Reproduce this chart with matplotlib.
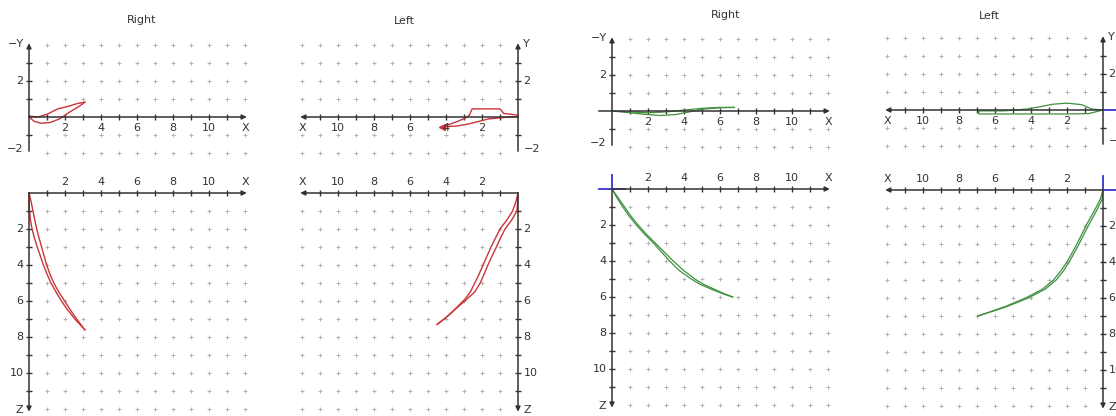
import numpy as np
import matplotlib.pyplot as plt

W, H = 1116, 416

# ---- red set (left half) ----
# Right side, top view (X / -Y)
ar_xy_1x = [0, 0.5, 1.0, 1.6, 2.2, 2.7, 3.1]
ar_xy_1y = [0.05, 0.0, 0.15, 0.45, 0.6, 0.75, 0.82]
ar_xy_2x = [0, 0.3, 0.7, 1.2, 1.7, 2.3, 2.8, 3.1]
ar_xy_2y = [0.0, -0.25, -0.35, -0.3, -0.1, 0.3, 0.6, 0.82]
# Right side, front view (X / Z)
ar_xz_z = [0, 0.5, 1, 1.5, 2, 2.5, 3, 3.5, 4, 4.5, 5, 5.5, 6, 6.5, 7, 7.6]
ar_xz_1x = [0, 0.0, 0.03, 0.08, 0.17, 0.3, 0.46, 0.63, 0.8, 1.0, 1.22, 1.5, 1.8, 2.15, 2.55, 3.1]
ar_xz_2x = [0, 0.12, 0.22, 0.32, 0.43, 0.56, 0.7, 0.84, 0.98, 1.16, 1.38, 1.65, 1.98, 2.3, 2.65, 3.1]
# Left side, top view
al_xy_1x = [0, 0.8, 1.0, 2.55, 2.7, 2.9, 3.5, 4.2]
al_xy_1y = [0.1, 0.2, 0.45, 0.45, 0.1, -0.05, -0.3, -0.55]
al_xy_2x = [0, 0.5, 1.0, 1.6, 2.2, 2.8, 3.4, 4.2]
al_xy_2y = [0.0, 0.0, -0.05, -0.1, -0.25, -0.4, -0.5, -0.55]
# Left side, front view
al_xz_z = [0, 0.5, 1, 1.5, 2, 2.5, 3, 3.5, 4, 4.5, 5, 5.5, 5.9, 6.3, 6.7, 7.0, 7.3]
al_xz_1x = [0, 0.12, 0.3, 0.62, 1.0, 1.25, 1.5, 1.72, 1.94, 2.16, 2.4, 2.65, 2.95, 3.35, 3.75, 4.1, 4.5]
al_xz_2x = [0, 0.02, 0.06, 0.35, 0.72, 0.97, 1.2, 1.44, 1.67, 1.88, 2.1, 2.4, 2.85, 3.3, 3.75, 4.1, 4.5]

# ---- green set (right half) ----
br_xy_1x = [0, 1.0, 2.0, 3.0, 4.0, 5.0, 6.0, 6.8]
br_xy_1y = [0, -0.05, -0.1, -0.05, 0.05, 0.15, 0.2, 0.2]
br_xy_2x = [0, 1.0, 2.0, 2.7, 3.5, 4.3, 5.0, 6.0, 6.8]
br_xy_2y = [0, -0.1, -0.2, -0.25, -0.2, -0.05, 0.1, 0.18, 0.2]
br_xz_z = [0, 0.5, 1.0, 1.5, 2.0, 2.5, 3.0, 3.5, 4.0, 4.5, 5.0, 5.3, 5.6, 5.8, 6.0]
br_xz_1x = [0, 0.28, 0.6, 0.95, 1.35, 1.8, 2.3, 2.75, 3.2, 3.7, 4.4, 4.9, 5.6, 6.1, 6.7]
br_xz_2x = [0, 0.35, 0.7, 1.05, 1.45, 1.9, 2.4, 2.9, 3.4, 3.95, 4.6, 5.1, 5.75, 6.2, 6.7]
bl_xy_1x = [0, 0.6, 1.2, 2.0, 2.8, 3.5, 4.2, 4.8, 5.5, 6.9]
bl_xy_1y = [0, 0.05, 0.3, 0.38, 0.32, 0.18, 0.06, 0.0, -0.05, -0.05]
bl_xy_2x = [0, 0.8, 2.0, 4.0, 6.0, 6.9, 6.9]
bl_xy_2y = [0, -0.2, -0.22, -0.22, -0.22, -0.22, -0.05]
bl_xz_z = [0, 0.5, 1, 1.5, 2, 2.5, 3, 3.5, 4, 4.5, 5, 5.5, 6, 6.5, 7]
bl_xz_1x = [0, 0.15, 0.4, 0.68, 0.95, 1.2, 1.45, 1.72, 2.0, 2.35, 2.75, 3.35, 4.3, 5.5, 6.95]
bl_xz_2x = [0, 0.05, 0.28, 0.55, 0.82, 1.08, 1.33, 1.6, 1.88, 2.2, 2.6, 3.2, 4.15, 5.4, 6.95]

x_labels = [2, 4, 6, 8, 10]
y_labels = [2]
z_labels = [2, 4, 6, 8, 10]

RED = '#c8353a'
GREEN = '#3f8f3f'
AX = '#333333'
BLUE = '#3535c8'

fig = plt.figure(figsize=(W / 100, H / 100), dpi=100)
fig.patch.set_facecolor('white')


def panel(ox, oy, flip, down, s=18.0):
    xlo, xhi = -1.2, 12.4
    ylo, yhi = (-1.0, 12.4) if down else (-2.3, 4.4)
    if flip:
        left, right = ox - xhi * s, ox - xlo * s
    else:
        left, right = ox + xlo * s, ox + xhi * s
    if down:
        top, bot = oy + ylo * s, oy + yhi * s
    else:
        top, bot = oy - yhi * s, oy - ylo * s
    ax = fig.add_axes([left / W, 1 - bot / H, (right - left) / W, (bot - top) / H])
    ax.set_xlim((xhi, xlo) if flip else (xlo, xhi))
    ax.set_ylim((yhi, ylo) if down else (ylo, yhi))
    ax.axis('off')

    # dotted grid
    gx = np.arange(1, 13)
    gy = np.arange(1, 13) if down else np.array([-2, -1, 1, 2, 3, 4])
    mx, my = np.meshgrid(gx, gy)
    ax.plot(mx.ravel(), my.ravel(), ls='none', marker='+', ms=3, mew=0.6, color='#a8a8a8')

    arrow = dict(arrowstyle='-|>', lw=1.1, color=AX, mutation_scale=7, shrinkA=0, shrinkB=0)
    ax.annotate('', xy=(12.1, 0), xytext=(0, 0), arrowprops=arrow)
    if down:
        ax.annotate('', xy=(0, 12.15), xytext=(0, 0), arrowprops=arrow)
    else:
        ax.annotate('', xy=(0, 4.1), xytext=(0, -1.9), arrowprops=arrow)
    ax.plot(np.arange(1, 12), np.zeros(11), ls='none', marker='|', ms=4, mew=1, color=AX)
    vt = np.arange(1, 12) if down else np.array([-1, 1, 2, 3])
    ax.plot(np.zeros(len(vt)), vt, ls='none', marker='_', ms=4, mew=1, color=AX)

    ha = 'left' if flip else 'right'
    kw = dict(fontsize=8, color=AX, va='center', clip_on=False)
    ly = -0.62
    for v in x_labels:
        ax.text(v, ly, str(v), ha='center', **kw)
    ax.text(12.0, ly, 'X', ha='center', **kw)
    if down:
        for v in z_labels:
            ax.text(-0.3, v, str(v), ha=ha, **kw)
        ax.text(-0.3, 12.05, 'Z', ha=ha, **kw)
    else:
        for v in y_labels:
            ax.text(-0.3, v, str(v), ha=ha, **kw)
        ax.text(-0.3, 4.05, 'Y' if flip else '\u2212Y', ha=ha, **kw)
        ax.text(-0.3, -1.75, '\u22122', ha=ha, **kw)
    return ax


# red set
ax = panel(29, 117, False, False)
ax.plot(ar_xy_1x, ar_xy_1y, color=RED, lw=1.0)
ax.plot(ar_xy_2x, ar_xy_2y, color=RED, lw=1.0)
ax = panel(29, 193, False, True)
ax.plot(ar_xz_1x, ar_xz_z, color=RED, lw=1.0)
ax.plot(ar_xz_2x, ar_xz_z, color=RED, lw=1.0)
ax = panel(518, 117, True, False)
ax.plot(al_xy_1x, al_xy_1y, color=RED, lw=1.0)
ax.plot(al_xy_2x, al_xy_2y, color=RED, lw=1.0)
ax.plot(al_xy_1x[-1], al_xy_1y[-1], marker='<', ms=4, color=RED)
ax = panel(518, 193, True, True)
ax.plot(al_xz_1x, al_xz_z, color=RED, lw=1.0)
ax.plot(al_xz_2x, al_xz_z, color=RED, lw=1.0)

# green set
ax = panel(612, 111, False, False)
ax.plot([-0.7, 0], [0, 0], color=AX, lw=1.1)
ax.plot(br_xy_1x, br_xy_1y, color=GREEN, lw=0.9)
ax.plot(br_xy_2x, br_xy_2y, color=GREEN, lw=0.9)
ax = panel(612, 189, False, True)
ax.plot([-0.7, 0.7], [0, 0], color=BLUE, lw=1.3)
ax.plot([0, 0], [-0.8, 0], color=BLUE, lw=1.3)
ax.plot(br_xz_1x, br_xz_z, color=GREEN, lw=0.9)
ax.plot(br_xz_2x, br_xz_z, color=GREEN, lw=0.9)
ax = panel(1103, 110, True, False)
ax.plot([0, -0.8], [0, 0], color=BLUE, lw=1.3, clip_on=False)
ax.plot(bl_xy_1x, bl_xy_1y, color=GREEN, lw=0.9)
ax.plot(bl_xy_2x, bl_xy_2y, color=GREEN, lw=0.9)
ax = panel(1103, 190, True, True)
ax.plot([0, -0.8], [0, 0], color=BLUE, lw=1.3, clip_on=False)
ax.plot([0, 0], [-0.8, 0], color=BLUE, lw=1.3)
ax.plot(bl_xz_1x, bl_xz_z, color=GREEN, lw=0.9)
ax.plot(bl_xz_2x, bl_xz_z, color=GREEN, lw=0.9)

# view titles
for txt, px, py in [('Right', 142, 20), ('Left', 404, 21), ('Right', 726, 15), ('Left', 989, 16)]:
    fig.text(px / W, 1 - py / H, txt, ha='center', va='center', fontsize=8, color=AX)

fig.savefig('out.png', dpi=100, facecolor='white')
